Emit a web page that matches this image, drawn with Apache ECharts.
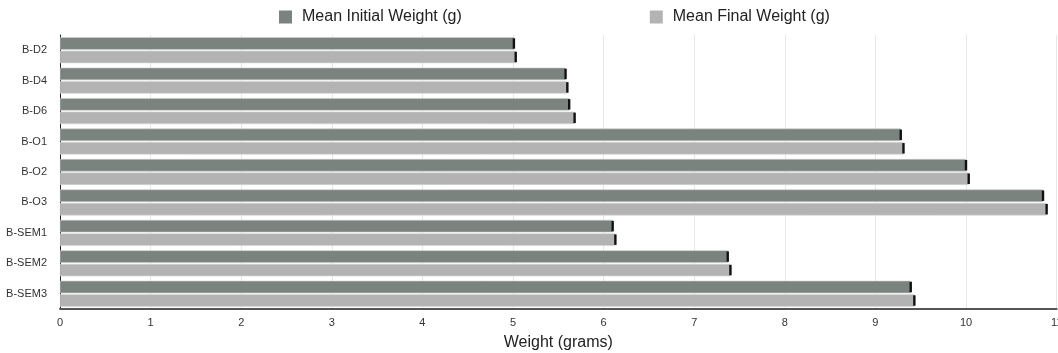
<!DOCTYPE html>
<html>
<head>
<meta charset="utf-8">
<script src="https://cdn.jsdelivr.net/npm/echarts@6/dist/echarts.min.js"></script>
<style>html,body{margin:0;padding:0;background:#fff}#c{width:1058px;height:353px}</style>
</head>
<body>
<div id="c"></div>
<script>
const categories = ['B-D2','B-D4','B-D6','B-O1','B-O2','B-O3','B-SEM1','B-SEM2','B-SEM3'];
const initialWeight = [5.01, 5.58, 5.62, 9.28, 10.00, 10.85, 6.10, 7.37, 9.39];
const finalWeight   = [5.03, 5.60, 5.68, 9.31, 10.03, 10.89, 6.13, 7.40, 9.43];
const seriesNames = ['Mean Initial Weight (g)', 'Mean Final Weight (g)'];
const xTicks = [0,1,2,3,4,5,6,7,8,9,10,11];

const BW = 12.5, GAP = 1;
const chart = echarts.init(document.getElementById('c'));

function errSeries(idx, values){
  return {
    type: 'custom', silent: true, z: 5,
    data: values.map((v,i)=>[v,i]),
    encode: {x:0, y:1},
    renderItem: function(params, api){
      const p = api.coord([api.value(0), api.value(1)]);
      const off = (idx===0 ? -1 : 1) * (BW+GAP)/2;
      return {type:'rect', shape:{x:p[0]-1.2, y:p[1]+off-BW/2+1, width:2.4, height:BW-2}, style:{fill:'#111'}};
    }
  };
}

chart.setOption({
  animation: false,
  textStyle: {fontFamily: 'Liberation Sans, Arial, sans-serif'},
  legend: {
    data: seriesNames,
    top: 4, left: 274,
    icon: 'rect', itemWidth: 13, itemHeight: 13, itemGap: 188,
    itemStyle: {borderWidth: 0},
    textStyle: {fontSize: 16, color: '#222', padding: [0, 0, 0, 5]}
  },
  grid: {left: 60, right: 1.4, top: 35, bottom: 44, containLabel: false, outerBoundsMode: 'none'},
  xAxis: {
    type: 'value', min: 0, max: 11, interval: 1,
    name: 'Weight (grams)', nameLocation: 'middle', nameGap: 26,
    nameTextStyle: {fontSize: 16, color: '#222'},
    axisLine: {show: true, lineStyle: {color: '#555', width: 2}},
    axisTick: {show: false},
    axisLabel: {fontSize: 11, color: '#333', margin: 8, formatter: v => xTicks.includes(v) ? String(v) : ''},
    splitLine: {show: true, lineStyle: {color: '#e6e6e6', width: 1}}
  },
  yAxis: {
    type: 'category', data: categories, inverse: true,
    axisLine: {show: true, lineStyle: {color: '#222', width: 1}},
    axisTick: {show: false},
    axisLabel: {fontSize: 11, color: '#333', margin: 13},
    splitLine: {show: false}
  },
  series: [
    {name: seriesNames[0], type: 'bar', data: initialWeight, barWidth: BW, barGap: '8%',
     itemStyle: {color: '#7b837f', borderColor: '#c9cdcb', borderWidth: 0.6}},
    {name: seriesNames[1], type: 'bar', data: finalWeight, barWidth: BW, barGap: '8%',
     itemStyle: {color: '#b3b3b3', borderColor: '#d6d6d6', borderWidth: 0.6}},
    errSeries(0, initialWeight),
    errSeries(1, finalWeight)
  ]
});
</script>
</body>
</html>
